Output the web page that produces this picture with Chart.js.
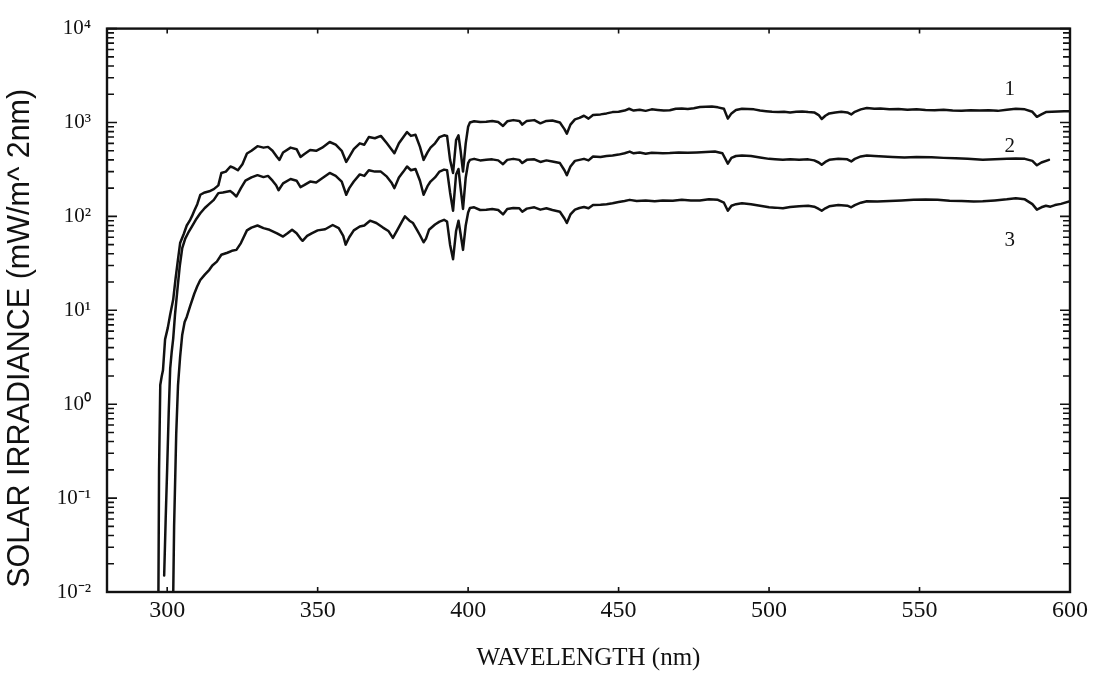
<!DOCTYPE html>
<html>
<head>
<meta charset="utf-8">
<script src="https://cdn.jsdelivr.net/npm/chart.js@4.4.1/dist/chart.umd.min.js"></script>
<style>
  html, body { margin: 0; padding: 0; background: #fff; }
  canvas { display: block; }
</style>
</head>
<body>
<canvas id="chartIrr" width="1096" height="681"></canvas>
<script>
// [wavelength nm, irradiance mW/m^2 nm]
const curve1 = [
  [297.0, 0.003], [297.3, 0.2], [297.7, 1.6], [298.2, 2.0], [298.6, 2.3], [299.3, 4.9], [300.2, 6.5],
  [301.0, 9], [302.0, 13], [302.8, 22], [303.6, 35], [304.3, 52], [305.5, 65], [306.5, 80], [307.5, 90],
  [308.2, 100], [309.0, 115], [310.0, 135], [311.0, 170], [312.5, 180], [314.0, 185], [315.5, 195],
  [317.0, 214], [318.0, 290], [319.5, 300], [321.0, 340], [322.0, 330], [323.5, 310], [325.0, 360],
  [326.5, 467], [328.0, 500], [330.0, 560], [332.0, 540], [333.5, 550], [335.0, 500], [336.5, 430],
  [337.3, 400], [338.5, 480], [341.0, 540], [343.0, 520], [344.3, 430], [345.5, 460], [347.5, 510],
  [349.5, 500], [351.5, 540], [354.0, 620], [356.0, 580], [358.0, 500], [359.5, 380], [360.5, 430],
  [362.0, 520], [364.0, 600], [365.5, 580], [367.0, 700], [369.0, 680], [371.0, 720], [373.0, 600],
  [374.5, 520], [375.5, 470], [377.0, 600], [378.5, 700], [379.7, 790], [381.0, 720], [382.5, 740],
  [384.0, 550], [385.2, 400], [386.5, 480], [387.5, 540], [389.0, 600], [390.5, 700], [392.0, 730],
  [393.0, 720], [394.0, 400], [395.0, 290], [396.0, 650], [396.8, 730], [397.5, 500], [398.3, 300],
  [399.2, 600], [400.0, 900], [400.6, 1000], [402.0, 1030], [404.0, 1010], [406.0, 1020], [408.0, 1040],
  [410.0, 1010], [411.6, 920], [413.0, 1030], [415.0, 1060], [417.0, 1040], [418.0, 950], [419.5, 1040],
  [422.0, 1060], [424.0, 980], [426.0, 1040], [428.0, 1050], [430.5, 1000], [432.0, 850], [432.8, 760],
  [434.0, 950], [435.5, 1080], [437.0, 1120], [438.5, 1180], [440.0, 1100], [441.5, 1200], [444.0, 1220],
  [446.0, 1250], [448.0, 1290], [450.0, 1300], [452.0, 1340], [453.5, 1400], [455.0, 1340], [457.0, 1370],
  [459.0, 1330], [461.0, 1380], [463.0, 1360], [465.0, 1340], [467.0, 1350], [469.0, 1400], [471.0, 1410],
  [473.0, 1390], [475.0, 1420], [477.0, 1460], [479.0, 1470], [481.0, 1480], [483.0, 1450], [485.0, 1400],
  [486.3, 1100], [487.5, 1250], [489.0, 1360], [491.0, 1400], [493.0, 1390], [495.0, 1380], [497.0, 1340],
  [499.0, 1320], [501.0, 1300], [503.0, 1290], [505.0, 1300], [507.0, 1280], [509.0, 1300], [511.0, 1310],
  [513.0, 1290], [515.0, 1280], [516.5, 1200], [517.5, 1090], [518.7, 1180], [520.0, 1250], [522.0, 1280],
  [524.0, 1300], [526.0, 1280], [527.3, 1220], [528.5, 1300], [530.5, 1380], [532.5, 1430], [535.0, 1400],
  [537.0, 1410], [540.0, 1380], [543.0, 1390], [546.0, 1370], [549.0, 1380], [552.0, 1360], [555.0, 1350],
  [558.0, 1370], [561.0, 1340], [564.0, 1330], [567.0, 1350], [570.0, 1340], [573.0, 1350], [576.0, 1330],
  [579.0, 1370], [582.0, 1400], [585.0, 1380], [587.5, 1300], [589.0, 1150], [590.5, 1220], [592.0, 1290],
  [594.0, 1300], [596.0, 1310], [598.0, 1320], [600.0, 1320]
];
const curve2 = [
  [299.0, 0.015], [299.5, 0.06], [300.0, 0.21], [300.5, 0.8], [301.0, 2.4], [301.5, 3.6], [302.0, 5.0],
  [302.6, 9], [303.5, 18], [304.2, 30], [305.0, 46], [306.0, 58], [307.0, 67], [308.0, 76], [309.5, 92],
  [311.0, 108], [312.5, 123], [314.0, 136], [315.5, 150], [317.0, 177], [318.5, 180], [321.0, 186],
  [322.0, 175], [323.0, 163], [324.5, 200], [326.0, 240], [328.0, 260], [330.0, 275], [332.0, 262],
  [333.5, 270], [335.0, 240], [336.2, 215], [337.0, 190], [338.5, 225], [341.0, 250], [343.0, 240],
  [344.3, 205], [345.5, 215], [347.5, 235], [349.5, 230], [351.5, 255], [354.0, 290], [356.0, 270],
  [358.0, 235], [359.5, 170], [360.5, 200], [362.0, 235], [364.0, 280], [365.5, 270], [367.0, 310],
  [369.0, 300], [371.0, 300], [373.0, 265], [374.5, 230], [375.5, 200], [377.0, 260], [378.5, 300],
  [379.7, 340], [381.0, 310], [382.5, 320], [384.0, 240], [385.2, 170], [386.5, 210], [387.5, 235],
  [389.0, 260], [390.5, 300], [392.0, 315], [393.0, 310], [394.0, 180], [395.0, 115], [396.0, 280],
  [396.8, 320], [397.5, 200], [398.3, 120], [399.2, 260], [400.0, 370], [400.6, 400], [402.0, 410],
  [404.0, 395], [406.0, 400], [408.0, 405], [410.0, 395], [411.6, 360], [413.0, 400], [415.0, 410],
  [417.0, 400], [418.0, 370], [419.5, 400], [422.0, 405], [424.0, 380], [426.0, 395], [428.0, 385],
  [430.5, 370], [432.0, 310], [432.8, 275], [434.0, 340], [435.5, 390], [437.0, 400], [438.5, 410],
  [440.0, 395], [441.5, 435], [444.0, 430], [446.0, 440], [448.0, 446], [450.0, 455], [452.0, 470],
  [453.7, 490], [455.0, 470], [457.0, 480], [459.0, 465], [461.0, 475], [464.7, 470], [467.0, 472],
  [470.0, 478], [473.0, 475], [476.0, 480], [479.0, 485], [482.0, 490], [484.5, 470], [486.3, 365],
  [487.5, 420], [489.0, 440], [491.0, 446], [494.0, 440], [497.0, 425], [500.0, 410], [502.0, 405],
  [504.6, 400], [507.0, 405], [510.0, 400], [513.0, 405], [515.0, 395], [516.5, 375], [517.5, 355],
  [518.7, 380], [520.0, 400], [523.0, 410], [526.0, 405], [527.3, 385], [528.5, 410], [530.5, 435],
  [532.5, 446], [535.0, 440], [538.0, 435], [541.0, 430], [545.0, 425], [549.0, 430], [554.0, 427],
  [558.0, 420], [562.0, 415], [566.0, 410], [571.0, 400], [575.0, 405], [579.0, 410], [582.0, 413],
  [585.0, 410], [587.5, 390], [589.0, 350], [590.5, 375], [593.0, 400]
];
const curve3 = [
  [301.8, 0.003], [302.3, 0.05], [302.8, 0.25], [303.0, 0.48], [303.6, 1.6], [304.3, 3.2], [305.0, 5.5],
  [305.8, 7.5], [306.5, 8.5], [307.6, 11], [309.0, 15], [310.0, 18], [311.0, 21], [312.5, 24], [314.0, 27],
  [315.0, 30], [316.5, 33], [318.0, 39], [320.0, 41], [321.5, 43], [323.0, 44], [324.5, 52], [326.5, 71],
  [328.0, 76], [330.0, 80], [332.0, 75], [334.0, 72], [336.5, 66], [338.5, 61], [340.0, 66], [341.5, 72],
  [343.0, 66], [344.3, 58], [345.0, 55], [346.5, 62], [348.0, 66], [350.0, 71], [352.5, 73], [355.0, 81],
  [357.0, 75], [358.5, 62], [359.3, 50], [360.5, 60], [362.0, 71], [364.0, 78], [365.5, 80], [367.4, 90],
  [369.5, 85], [371.7, 76], [373.5, 70], [375.0, 59], [376.5, 72], [378.0, 88], [379.0, 100], [380.5, 90],
  [381.7, 85], [383.0, 72], [384.0, 63], [385.2, 53], [386.0, 58], [387.0, 72], [389.0, 82], [390.5, 88],
  [392.0, 92], [393.0, 88], [394.0, 50], [395.0, 35], [396.0, 70], [396.8, 90], [397.5, 65], [398.3, 44],
  [399.2, 80], [400.0, 110], [400.6, 123], [402.0, 125], [404.0, 117], [406.0, 118], [408.0, 120],
  [410.0, 117], [411.6, 105], [413.0, 120], [415.0, 123], [417.0, 122], [418.0, 112], [419.5, 121],
  [422.0, 125], [424.0, 118], [426.0, 122], [428.0, 117], [430.5, 112], [432.0, 95], [432.8, 85],
  [434.0, 105], [435.5, 118], [437.0, 123], [438.5, 126], [440.0, 122], [441.5, 132], [444.0, 133],
  [446.0, 135], [448.0, 138], [450.0, 142], [452.0, 146], [453.7, 150], [456.0, 146], [459.0, 148],
  [462.0, 145], [464.7, 148], [468.0, 147], [471.0, 150], [474.0, 148], [477.0, 148], [480.0, 152],
  [483.0, 150], [485.0, 140], [486.3, 115], [487.5, 130], [489.0, 135], [491.0, 138], [494.0, 135],
  [497.0, 130], [500.0, 125], [502.0, 124], [504.6, 122], [507.0, 126], [510.0, 128], [513.0, 130],
  [515.0, 127], [516.5, 120], [517.5, 115], [518.7, 122], [520.0, 128], [523.0, 132], [526.0, 130],
  [527.3, 125], [528.5, 132], [530.5, 140], [532.5, 145], [536.0, 144], [540.0, 146], [544.0, 148],
  [548.0, 150], [552.0, 151], [556.0, 150], [560.0, 147], [564.0, 146], [568.0, 144], [571.0, 145],
  [575.0, 148], [579.0, 152], [582.0, 156], [585.0, 152], [587.5, 135], [589.0, 118], [590.5, 125],
  [592.0, 130], [593.5, 127], [595.0, 132], [597.0, 136], [600.0, 145]
];

const xTicks = [300, 350, 400, 450, 500, 550, 600];
const yDecades = [0.01, 0.1, 1, 10, 100, 1000, 10000];
const yLabels = ['10\u207B\u00B2', '10\u207B\u00B9', '10\u2070', '10\u00B9', '10\u00B2', '10\u00B3', '10\u2074'];
const curveNames = ['1', '2', '3'];
const curveNameAt = [[580, 2270], [580, 553], [580, 56]];

const ink = '#111';

function toPoints(c) {
  return c.map(p => ({x: p[0], y: p[1]}));
}

// box, inward ticks on all four sides, curve numbers and axis titles
const framePlugin = {
  id: 'frame',
  afterDraw(chart) {
    const ctx = chart.ctx;
    const a = chart.chartArea;
    const x = chart.scales.x, y = chart.scales.y;
    ctx.save();
    ctx.strokeStyle = ink;
    ctx.lineWidth = 1.6;
    ctx.beginPath();
    y.ticks.forEach(t => {
      const py = y.getPixelForValue(t.value);
      const len = t.major ? 10 : 7;
      ctx.moveTo(a.left, py); ctx.lineTo(a.left + len, py);
      ctx.moveTo(a.right, py); ctx.lineTo(a.right - len, py);
    });
    x.ticks.forEach(t => {
      const px = x.getPixelForValue(t.value);
      ctx.moveTo(px, a.bottom); ctx.lineTo(px, a.bottom - 5);
      ctx.moveTo(px, a.top); ctx.lineTo(px, a.top + 5);
    });
    ctx.stroke();
    ctx.lineWidth = 2.4;
    ctx.strokeRect(a.left, a.top, a.right - a.left, a.bottom - a.top);

    ctx.fillStyle = ink;
    ctx.textAlign = 'center';
    ctx.textBaseline = 'middle';
    ctx.font = '21px "Liberation Serif"';
    curveNames.forEach((n, i) => {
      ctx.fillText(n, x.getPixelForValue(curveNameAt[i][0]), y.getPixelForValue(curveNameAt[i][1]));
    });

    ctx.font = '25px "Liberation Serif"';
    ctx.fillText('WAVELENGTH (nm)', (a.left + a.right) / 2, a.bottom + 66);

    ctx.translate(21, (a.top + a.bottom) / 2 + 28);
    ctx.rotate(-Math.PI / 2);
    ctx.font = '30.5px "Liberation Sans"';
    ctx.fillText('SOLAR IRRADIANCE (mW/m^ 2nm)', 0, 0);
    ctx.restore();
  }
};

const lineStyle = {
  borderColor: ink,
  borderWidth: 2.5,
  pointRadius: 0,
  tension: 0,
  fill: false,
  borderJoinStyle: 'round',
  borderCapStyle: 'round'
};

let irrChart = new Chart(document.getElementById('chartIrr'), {
  type: 'line',
  data: {
    datasets: [
      Object.assign({label: '1', data: toPoints(curve1)}, lineStyle),
      Object.assign({label: '2', data: toPoints(curve2)}, lineStyle),
      Object.assign({label: '3', data: toPoints(curve3)}, lineStyle)
    ]
  },
  options: {
    responsive: false,
    animation: false,
    devicePixelRatio: 1,
    layout: { padding: { top: 24, right: 26, left: 0, bottom: 0 } },
    scales: {
      x: {
        type: 'linear',
        min: 280,
        max: 600,
        grid: { display: false, drawTicks: false },
        border: { display: false },
        afterBuildTicks: axis => { axis.ticks = xTicks.map(v => ({value: v})); },
        afterFit: axis => { axis.height = 89; },
        ticks: {
          color: ink,
          padding: 4,
          maxRotation: 0,
          autoSkip: false,
          font: { family: 'Liberation Serif', size: 24 }
        }
      },
      y: {
        type: 'logarithmic',
        min: 0.01,
        max: 10000,
        grid: { display: false, drawTicks: false },
        border: { display: false },
        afterBuildTicks: axis => {
          const t = [];
          yDecades.forEach((d, i) => {
            t.push({value: d, major: true});
            if (i < yDecades.length - 1) {
              for (let k = 2; k <= 9; k++) t.push({value: d * k, major: false});
            }
          });
          axis.ticks = t;
        },
        afterFit: axis => { axis.width = 107; },
        ticks: {
          color: ink,
          padding: 16,
          autoSkip: false,
          font: { family: 'Liberation Serif', size: 21 },
          callback: function (value) {
            const i = yDecades.findIndex(d => Math.abs(d - value) < d * 1e-6);
            return i >= 0 ? yLabels[i] : '';
          }
        }
      }
    },
    plugins: {
      legend: { display: false },
      tooltip: { enabled: false }
    }
  },
  plugins: [framePlugin]
});
</script>
</body>
</html>
